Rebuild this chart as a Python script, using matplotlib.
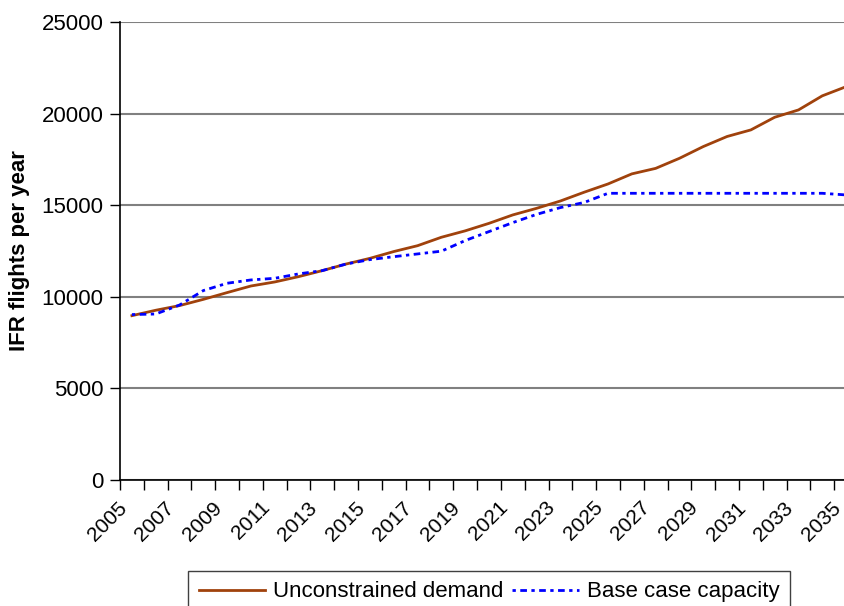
import numpy as np
import matplotlib.pyplot as plt
from matplotlib.transforms import ScaledTranslation

plt.rcParams['font.family'] = ['Liberation Sans', 'DejaVu Sans']

# years on the category axis
years = list(range(2005, 2036))

# unconstrained demand (IFR flights per year)
demand = [8970, 9265, 9520, 9860, 10230, 10590, 10810, 11100, 11430, 11790,
          12100, 12470, 12790, 13250, 13600, 14010, 14470, 14830, 15230, 15710,
          16160, 16710, 17010, 17560, 18200, 18750, 19110, 19800, 20200, 20970,
          21470]

# base case capacity
capacity = [9030, 9060, 9550, 10340, 10740, 10920, 11010, 11250, 11430, 11790,
            12030, 12190, 12340, 12490, 13070, 13560, 14050, 14500, 14870, 15150,
            15650, 15650, 15650, 15650, 15650, 15650, 15650, 15650, 15650, 15650,
            15560]

y_ticks = [0, 5000, 10000, 15000, 20000, 25000]

fig = plt.figure(figsize=(8.45, 6.06), dpi=100)
# plot area runs past the right edge of the picture, like the cropped original
ax = fig.add_axes([120 / 845, 126 / 606, 738 / 845, 458 / 606])

x = np.arange(len(years))
ax.plot(x, demand, color='#A0420C', lw=2, label='Unconstrained demand', zorder=3)
ax.plot(x, capacity, color='#0000FF', lw=2, linestyle=(0, (1.2, 1.6, 2.4, 1.6)),
        label='Base case capacity', zorder=3)

ax.set_xlim(-0.5, len(years) - 0.5)
ax.set_ylim(0, 25000)
ax.set_yticks(y_ticks)
ax.set_yticklabels([str(v) for v in y_ticks], fontsize=16)
ax.yaxis.grid(True, color='#808080', lw=1.5)
ax.set_axisbelow(True)

# year boundary ticks, labels every second year
ax.set_xticks(np.arange(len(years) + 1) - 0.5)
ax.set_xticklabels([])
ax.set_xticks(x[::2], minor=True)
ax.set_xticklabels([str(y) for y in years[::2]], minor=True, fontsize=15,
                   rotation=45, ha='right', va='top', rotation_mode='anchor')
ax.tick_params(axis='x', which='major', length=7, width=1, direction='out')
ax.tick_params(axis='x', which='minor', length=0, pad=13)
ax.tick_params(axis='y', length=7, width=1, direction='out', pad=5)

# shift the slanted year labels a little to the left, as in the original
shift = ScaledTranslation(-0.15, 0, fig.dpi_scale_trans)
for lab in ax.get_xticklabels(minor=True):
    lab.set_transform(lab.get_transform() + shift)

for side in ['top', 'right']:
    ax.spines[side].set_visible(False)
ax.spines['left'].set_linewidth(1.2)
ax.spines['bottom'].set_linewidth(1.2)

ax.set_ylabel('IFR flights per year', fontsize=16, fontweight='bold', labelpad=8)

# legend box runs off the bottom edge, as in the original
fig.legend(loc='upper center', bbox_to_anchor=(489 / 845, 1 - 571 / 606), ncol=2,
           fontsize=16, frameon=True, fancybox=False, edgecolor='#404040',
           handlelength=3.0, columnspacing=0.4, handletextpad=0.35,
           borderpad=0.47, borderaxespad=0, framealpha=1)

fig.savefig('out.png', dpi=100)
